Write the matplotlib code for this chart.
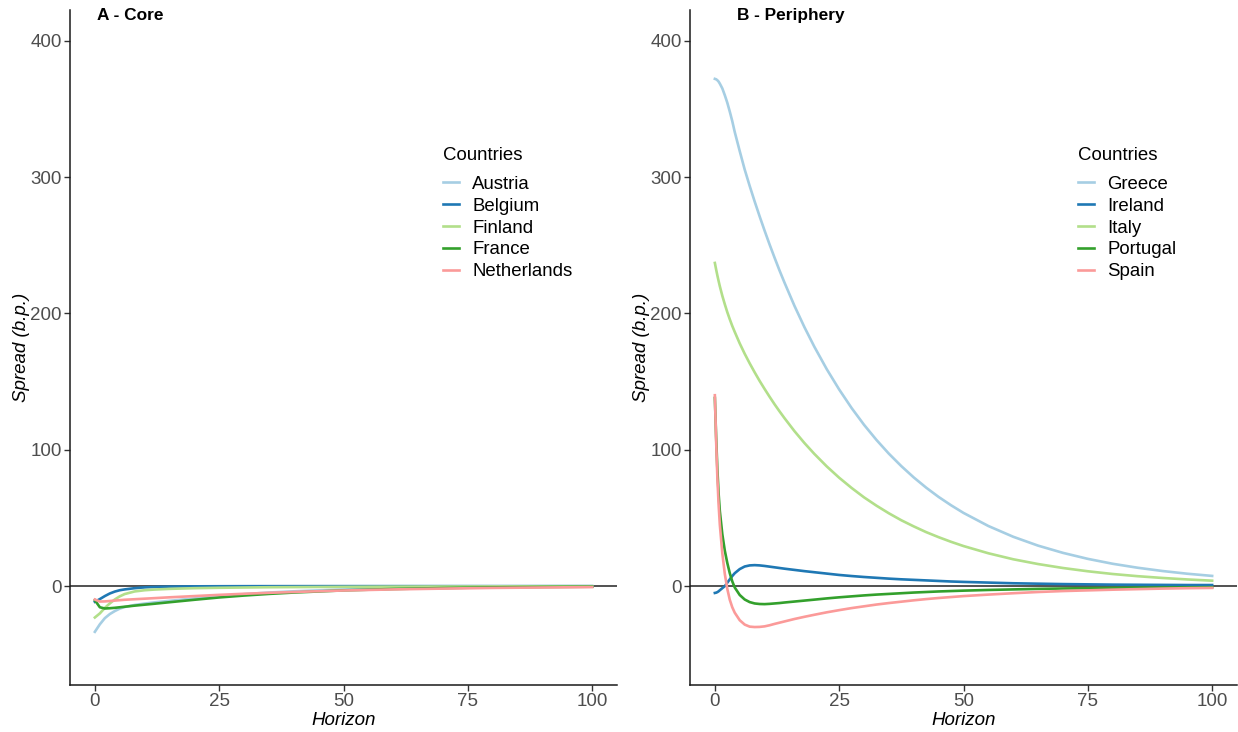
import matplotlib
matplotlib.use("Agg")
import matplotlib.pyplot as plt

plt.rcParams['font.family'] = ['Liberation Sans', 'DejaVu Sans']

# ---------------- data ----------------
core_countries = ["Austria", "Belgium", "Finland", "France", "Netherlands"]
core_h = [0, 1, 2, 3, 4, 5, 6, 8, 10, 12, 15, 20, 25, 30, 35, 40, 50, 60, 70, 80, 90, 100]
austria = [-33.5, -28, -23.5, -20.5, -18.3, -16.5, -15.3, -13.8, -12.8, -11.9, -10.8, -9.0, -7.5, -5.9, -4.7, -3.8, -2.4, -1.6, -1.0, -0.6, -0.4, -0.25]
belgium = [-11.5, -9.5, -7.3, -5.4, -4.0, -3.0, -2.4, -1.5, -0.9, -0.6, -0.35, -0.15, -0.08, -0.04, -0.02, -0.01, 0, 0, 0, 0, 0, 0]
finland = [-23, -20, -16, -12.7, -9.8, -7.5, -5.8, -3.9, -3.0, -2.5, -2.0, -1.5, -1.2, -1.0, -0.8, -0.7, -0.5, -0.35, -0.25, -0.18, -0.12, -0.08]
france = [-10.3, -15.5, -16.4, -16.2, -15.9, -15.5, -15.1, -14.3, -13.6, -12.9, -11.8, -10.0, -8.3, -6.9, -5.7, -4.7, -3.1, -2.1, -1.4, -0.9, -0.6, -0.4]
netherlands = [-9.8, -11.3, -11.2, -10.9, -10.6, -10.3, -10.0, -9.6, -9.2, -8.8, -8.2, -7.3, -6.4, -5.6, -4.9, -4.3, -3.2, -2.4, -1.8, -1.3, -1.0, -0.7]

peri_countries = ["Greece", "Ireland", "Italy", "Portugal", "Spain"]
peri_h = [0, 0.25, 0.5, 0.75, 1, 1.5, 2, 2.5, 3, 3.5, 4, 5, 6, 7, 8, 9, 10, 11, 12, 13, 14, 16, 18, 20,
          22.5, 25, 27.5, 30, 32.5, 35, 37.5, 40, 42.5, 45, 47.5, 50, 55, 60, 65, 70, 75, 80, 85, 90, 95, 100]
greece = [372, 371.7, 371, 370, 368.5, 365, 360, 354.5, 348, 341, 333, 319, 305.5, 293.5, 282.1, 271.2, 260.7, 250.6, 240.9, 231.5, 222.6, 205.6, 190.0, 175.6,
          159.1, 144.2, 130.6, 118.3, 107.2, 97.1, 88.0, 79.7, 72.2, 65.4, 59.3, 53.7, 44.1, 36.2, 29.7, 24.4, 20.0, 16.4, 13.5, 11.1, 9.1, 7.5]
ireland = [-5, -4.8, -4.4, -3.8, -3, -1.5, 0, 2.5, 5, 7.4, 9.5, 12.5, 14.4, 15.2, 15.4, 15.2, 14.8, 14.3, 13.8, 13.3, 12.8, 11.9, 11.0, 10.2,
           9.2, 8.2, 7.4, 6.7, 6.1, 5.5, 5.0, 4.6, 4.2, 3.8, 3.4, 3.1, 2.6, 2.1, 1.8, 1.5, 1.3, 1.1, 1.0, 0.9, 0.8, 0.8]
italy = [237, 232.3, 227.9, 223.8, 219.9, 212.9, 206.7, 200.9, 195.7, 190.8, 186.4, 178.0, 170.4, 163.4, 156.8, 150.5, 144.6, 138.9, 133.4, 128.2, 123.2, 113.7, 105.0, 97.0,
         87.8, 79.5, 72.0, 65.1, 59.0, 53.4, 48.3, 43.8, 39.6, 35.9, 32.5, 29.4, 24.1, 19.7, 16.2, 13.3, 10.9, 8.9, 7.3, 6.0, 4.9, 4.0]
portugal = [138, 110, 86, 68, 55, 38, 26, 17, 9.5, 3.5, -1, -6.5, -9.8, -11.7, -12.7, -13.1, -13.2, -13.0, -12.7, -12.4, -12.0, -11.3, -10.6, -9.9,
            -9.0, -8.2, -7.5, -6.8, -6.2, -5.7, -5.2, -4.7, -4.3, -3.9, -3.6, -3.3, -2.8, -2.4, -2.0, -1.7, -1.5, -1.3, -1.1, -1.0, -0.9, -0.8]
spain = [140, 107, 80, 60, 45, 24, 9, -2, -10, -15.5, -19.5, -25, -28.2, -29.7, -30, -29.9, -29.5, -28.7, -27.7, -26.8, -25.9, -24.1, -22.5, -21.0,
         -19.2, -17.6, -16.1, -14.8, -13.5, -12.4, -11.4, -10.4, -9.5, -8.7, -8.0, -7.3, -6.2, -5.2, -4.3, -3.6, -3.1, -2.6, -2.2, -1.8, -1.5, -1.3]

colors = ["#A6CEE3", "#1F78B4", "#B2DF8A", "#33A02C", "#FB9A99"]
yticks = [0, 100, 200, 300, 400]
xticks = [0, 25, 50, 75, 100]

# ---------------- figure ----------------
W, H = 1238, 732
fig = plt.figure(figsize=(W / 100, H / 100), dpi=100)

def px_axes(l, r, t, b):
    return fig.add_axes([l / W, 1 - b / H, (r - l) / W, (b - t) / H])

ax1 = px_axes(70, 617, 10, 685)
ax2 = px_axes(690, 1237, 10, 685)

panels = [
    (ax1, core_h, [austria, belgium, finland, france, netherlands], core_countries, "A - Core", 97, 443),
    (ax2, peri_h, [greece, ireland, italy, portugal, spain], peri_countries, "B - Periphery", 737, 1078),
]

LEG_FS = 13.4
for ax, h, series, names, title, tx, lx in panels:
    for vals, name, c in zip(series, names, colors):
        ax.plot(h, vals, color=c, lw=1.9, label=name, solid_joinstyle='round')
    ax.axhline(0, color="#333333", lw=1.2, zorder=1)
    ax.set_xlim(-5, 105)
    ax.set_ylim(-72.5, 422.5)
    ax.set_xticks(xticks)
    ax.set_yticks(yticks)
    for s in ["top", "right"]:
        ax.spines[s].set_visible(False)
    for s in ["left", "bottom"]:
        ax.spines[s].set_color("#1a1a1a")
        ax.spines[s].set_linewidth(1.1)
    ax.tick_params(axis='both', colors="#333333", labelcolor="#4D4D4D",
                   labelsize=13.5, length=4, width=1.0, pad=2)
    ax.set_xlabel("Horizon", fontstyle='italic', fontsize=13.5, color='black', labelpad=1)
    ax.set_ylabel("Spread (b.p.)", fontstyle='italic', fontsize=13.5, color='black', labelpad=0)
    fig.text(tx / W, 1 - 15.5 / H, title, fontweight='bold', fontsize=12.4,
             ha='left', va='center')
    fig.text(lx / W, 1 - 156 / H, "Countries", fontsize=LEG_FS, ha='left', va='center')
    leg = ax.legend(loc='center left', bbox_to_anchor=(lx / W, 1 - 228 / H),
                    bbox_transform=fig.transFigure, frameon=False,
                    fontsize=LEG_FS, borderpad=0, borderaxespad=0,
                    handlelength=0.86, handletextpad=0.7, labelspacing=0.26)
    for line in leg.get_lines():
        line.set_linewidth(1.9)

fig.savefig("out.png", dpi=100)
